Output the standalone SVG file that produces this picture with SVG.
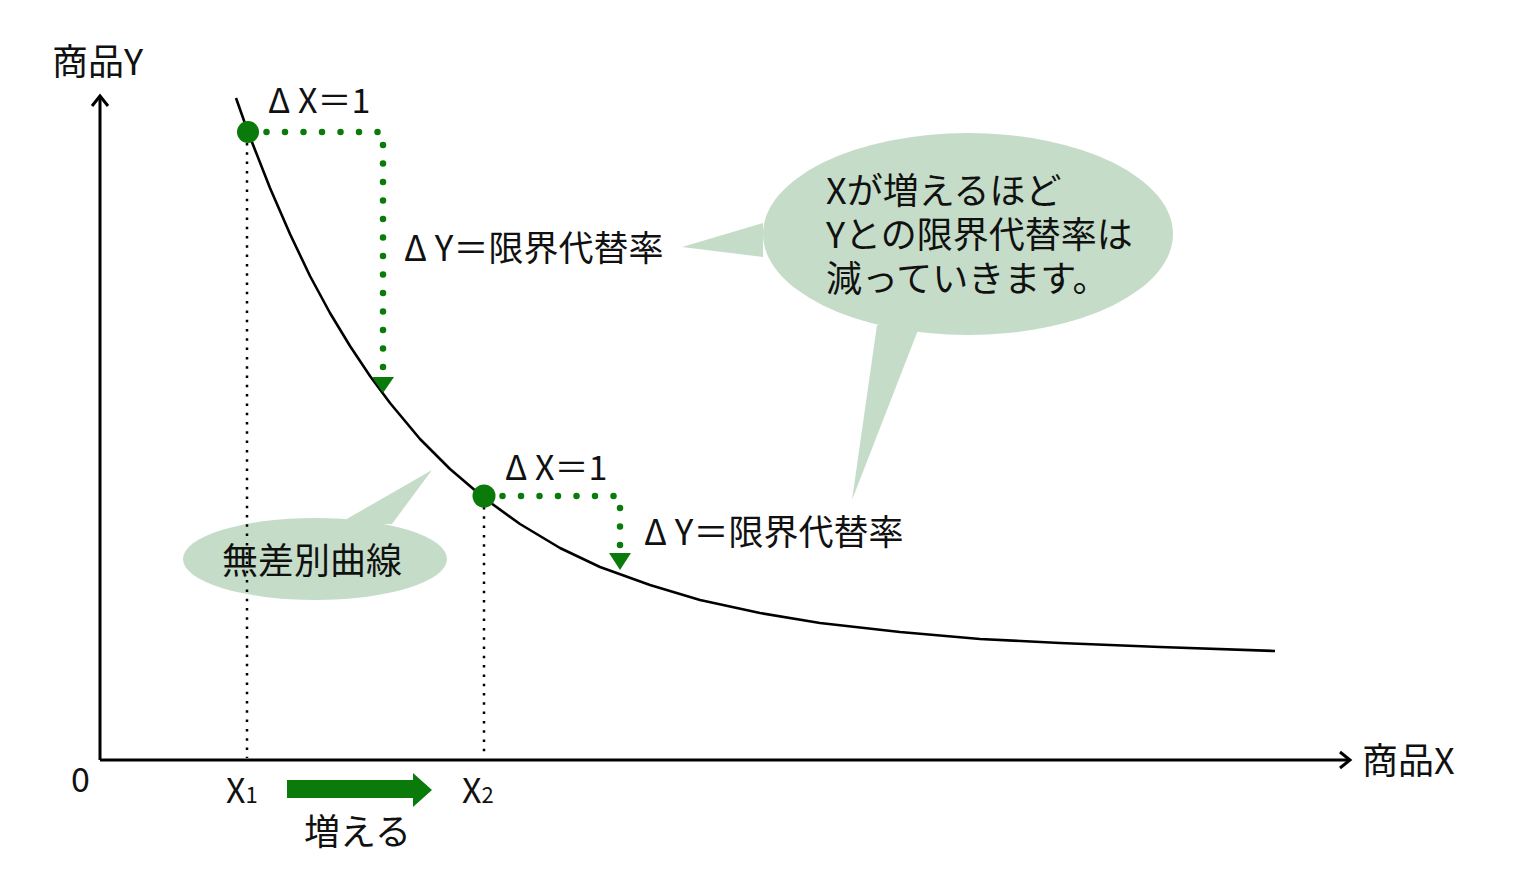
<svg xmlns="http://www.w3.org/2000/svg" width="1536" height="877" viewBox="0 0 1536 877">
<style>
text{font-family:"Noto Sans CJK JP","Noto Sans",sans-serif;fill:#111;}
.t36{font-size:36px;}
.t35{font-size:35px;}
.t34{font-size:34px;}
.bubble{fill:#c5ddc8;}
.axis{stroke:#000;stroke-width:3;fill:none;}
.guide{stroke:#000;stroke-width:2.5;fill:none;stroke-dasharray:2.5 6.8;}
.gdots{stroke:#0a7a0a;stroke-width:6.5;fill:none;stroke-linecap:round;stroke-dasharray:0 18.5;}
.green{fill:#0a7a0a;}
</style>
<rect width="1536" height="877" fill="#fff"/>

<g id="bubble-main">
<path class="bubble" d="M763,223 L682,247 L763,257 Z"/>
<path class="bubble" d="M877,325 L852,500 L920,325 Z"/>
<ellipse class="bubble" cx="968" cy="234" rx="205" ry="101"/>
<text class="t36" x="826" y="204">Xが増えるほど</text>
<text class="t36" x="826" y="248">Yとの限界代替率は</text>
<text class="t36" x="826" y="292">減っていきます。</text>
</g>

<g id="bubble-curve">
<path class="bubble" d="M338,524 L432,470 L392,524 Z"/>
<ellipse class="bubble" cx="315" cy="559" rx="132" ry="41"/>
<text class="t36" x="222" y="574">無差別曲線</text>
</g>

<g id="axes">
<path class="axis" d="M100,760 V96"/>
<path class="axis" d="M92,106 L100,96 L108,106"/>
<path class="axis" d="M100,760 H1350"/>
<path class="axis" d="M1340,752 L1350,760 L1340,768"/>
<text class="t36" x="52" y="75">商品Y</text>
<text class="t36" x="1362" y="774">商品X</text>
<text class="t34" x="71" y="792">0</text>
<text class="t34" x="226" y="803">X<tspan font-size="22">1</tspan></text>
<text class="t34" x="462" y="803">X<tspan font-size="22">2</tspan></text>
</g>

<g id="curve">
<path d="M236,98 L248,132 L270,188 L290,234 L310,276 L330,313 L350,346 L370,376 L390,403 L420,439 L450,469 L484,498 L520,524 L560,548 L600,567 L650,585 L700,600 L760,613 L820,623 L900,632 L980,639 L1060,643 L1160,647 L1275,651" fill="none" stroke="#000" stroke-width="2.6" stroke-linejoin="round"/>
</g>

<g id="connectors">
<path class="guide" d="M247,143 V758"/>
<path class="guide" d="M484,507 V758"/>
<path class="gdots" d="M248,132 H383 V368"/>
<path class="green" d="M372,377 L394,377 L383,393 Z"/>
<path class="gdots" d="M484,496 H620 V546"/>
<path class="green" d="M609,553 L631,553 L620,570 Z"/>
<path class="green" d="M287,780 H413 V773 L432,790 L413,807 V798 H287 Z"/>
</g>

<g id="point1">
<circle class="green" cx="248" cy="132" r="11"/>
<text class="t34" x="268" y="113">Δ X＝1</text>
<text class="t35" x="404" y="261">Δ Y＝限界代替率</text>
</g>

<g id="point2">
<circle class="green" cx="484" cy="496" r="11.5"/>
<text class="t34" x="505" y="480">Δ X＝1</text>
<text class="t35" x="644" y="545">Δ Y＝限界代替率</text>
</g>

<g id="increase">
<text class="t36" x="304" y="845">増える</text>
</g>
</svg>
